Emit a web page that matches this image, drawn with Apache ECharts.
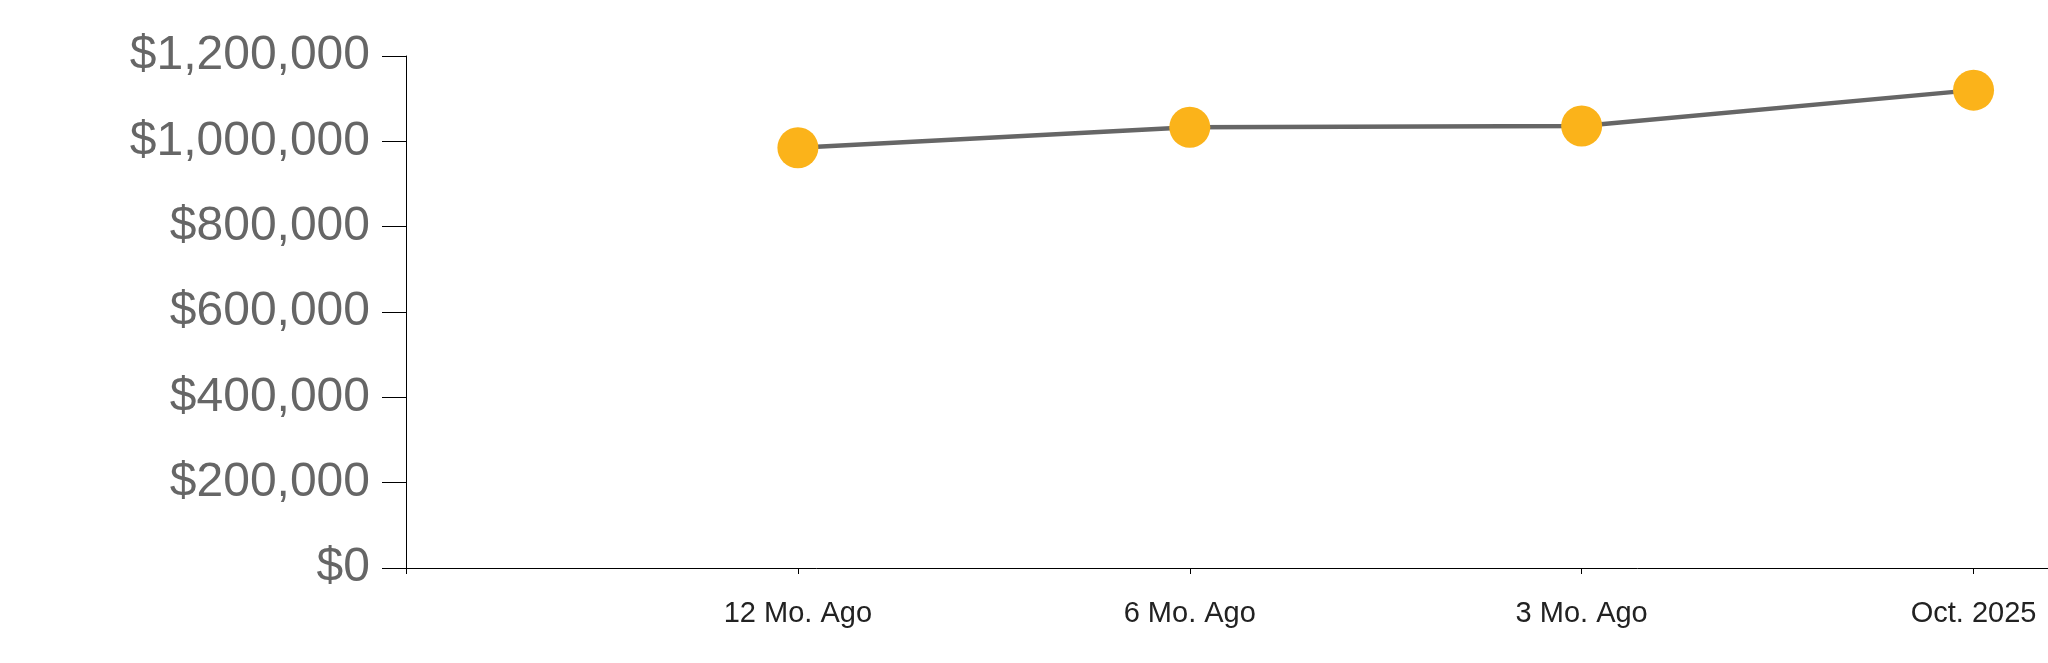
<!DOCTYPE html>
<html>
<head>
<meta charset="utf-8">
<script src="https://cdn.jsdelivr.net/npm/echarts@6/dist/echarts.min.js"></script>
<style>
  html, body { margin: 0; padding: 0; background: #fff; }
  #chart { width: 2048px; height: 663px; }
</style>
</head>
<body>
<div id="chart"></div>
<script>
const categories = ['12 Mo. Ago', '6 Mo. Ago', '3 Mo. Ago', 'Oct. 2025'];
const values = [985000, 1033000, 1036000, 1120000];
const yTicks = [0, 200000, 400000, 600000, 800000, 1000000, 1200000];

const chart = echarts.init(document.getElementById('chart'), null, { renderer: 'canvas' });
const seriesData = values.map((v, i) => [i + 1, v]);

chart.setOption({
  animation: false,
  grid: { left: 406, right: 0, top: 56, bottom: 95, containLabel: false },
  xAxis: {
    type: 'value',
    min: 0,
    max: 4.19,
    interval: 1,
    splitLine: { show: false },
    axisLine: { show: true, onZero: false, lineStyle: { color: '#000', width: 1 } },
    axisTick: { show: true, length: 6, lineStyle: { color: '#000', width: 1 } },
    axisLabel: {
      margin: 31,
      color: '#222',
      fontFamily: 'Liberation Sans, Arial, sans-serif',
      fontSize: 29,
      showMaxLabel: false,
      formatter: function (v) {
        const idx = Math.round(v) - 1;
        return (idx >= 0 && idx < categories.length) ? categories[idx] : '';
      }
    }
  },
  yAxis: {
    type: 'value',
    min: yTicks[0],
    max: yTicks[yTicks.length - 1],
    interval: yTicks[1] - yTicks[0],
    splitLine: { show: false },
    axisLine: { show: true, lineStyle: { color: '#000', width: 1 } },
    axisTick: { show: true, length: 24, lineStyle: { color: '#000', width: 1 } },
    axisLabel: {
      margin: 36,
      color: '#666',
      fontFamily: 'Liberation Sans, Arial, sans-serif',
      fontSize: 48,
      formatter: function (v) { return '$' + v.toLocaleString('en-US'); }
    }
  },
  series: [{
    type: 'line',
    data: seriesData,
    symbol: 'circle',
    symbolSize: 41,
    lineStyle: { color: '#666', width: 4.5 },
    itemStyle: { color: '#fbb31a', borderWidth: 0 },
    emphasis: { disabled: true },
    z: 3
  }]
});
</script>
</body>
</html>
